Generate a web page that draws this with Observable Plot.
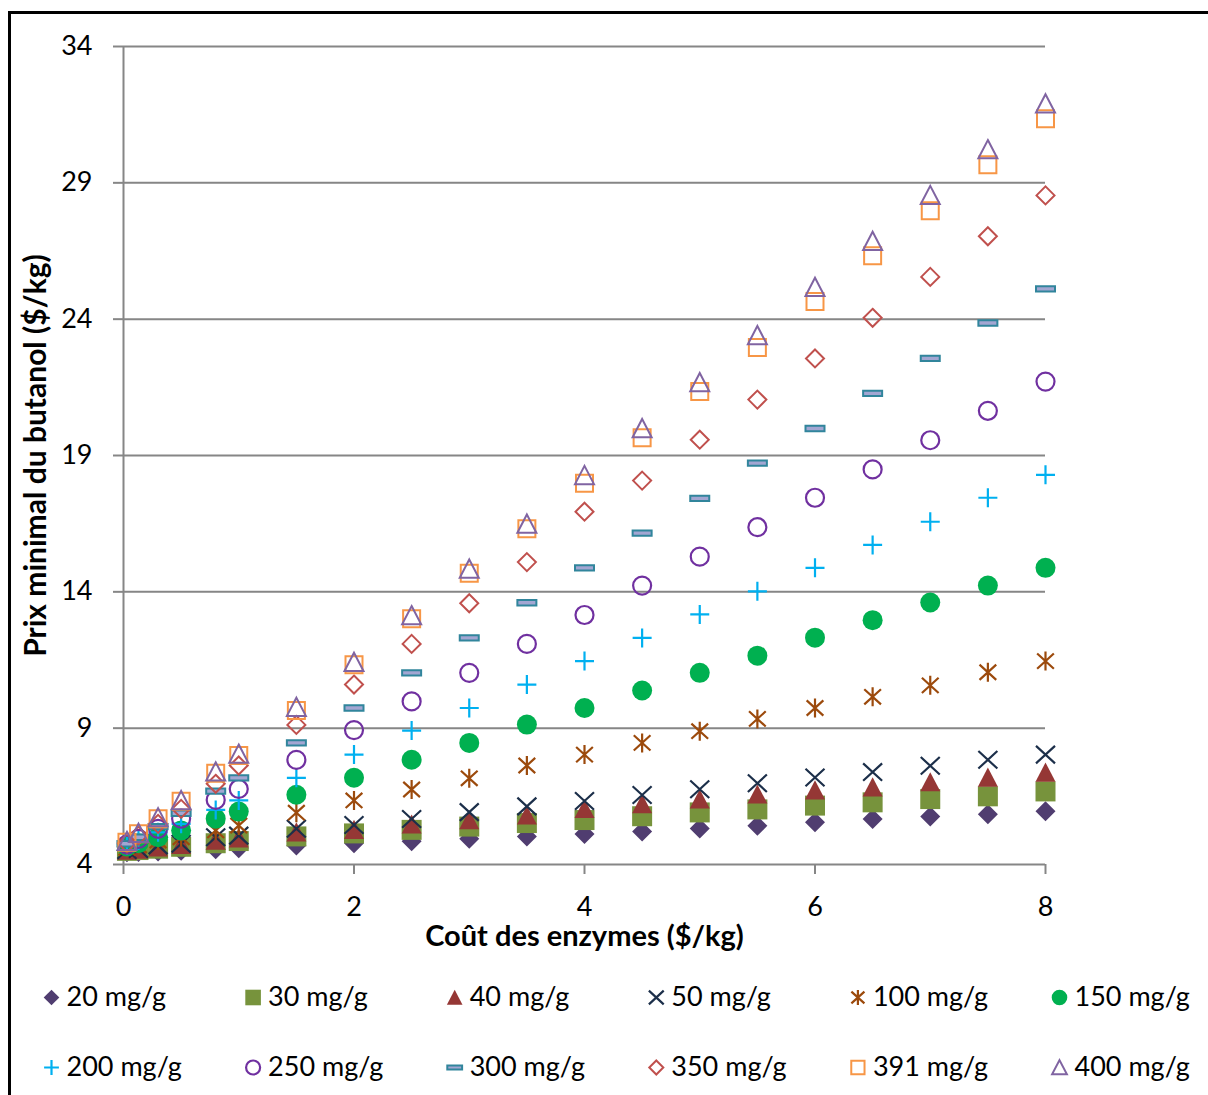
<!DOCTYPE html>
<html><head><meta charset="utf-8">
<script src="https://cdn.jsdelivr.net/npm/d3@7"></script>
<script src="https://cdn.jsdelivr.net/npm/@observablehq/plot@0.6"></script>
<style>
html,body{margin:0;padding:0;background:#fff;overflow:hidden;}
#wrap{position:relative;width:1208px;height:1095px;overflow:hidden;font-family:Lato,sans-serif;background:#fff;}
#frame{position:absolute;left:8px;top:11px;width:1400px;height:1300px;border:3px solid #000;pointer-events:none;z-index:2;}
#chart svg,#legend svg{display:block;}
</style></head><body>
<div id="wrap"><div id="frame"></div><div id="chart"></div><div id="legend"></div></div>
<script>
// ---------- data ----------
const xValues = [0.03, 0.13, 0.3, 0.5, 0.8, 1, 1.5, 2, 2.5, 3, 3.5, 4, 4.5, 5, 5.5, 6, 6.5, 7, 7.5, 8];
const seriesNames = ["20 mg/g","30 mg/g","40 mg/g","50 mg/g","100 mg/g","150 mg/g","200 mg/g","250 mg/g","300 mg/g","350 mg/g","391 mg/g","400 mg/g"];
const s20  = [4.45,4.46,4.48,4.50,4.56,4.60,4.70,4.78,4.85,4.94,5.03,5.12,5.21,5.32,5.42,5.55,5.67,5.76,5.84,5.95];
const s30  = [4.50,4.53,4.58,4.65,4.78,4.86,5.03,5.14,5.27,5.39,5.52,5.63,5.77,5.91,6.02,6.16,6.28,6.40,6.50,6.68];
const s40  = [4.51,4.55,4.63,4.72,4.88,4.96,5.18,5.27,5.47,5.63,5.80,6.04,6.22,6.39,6.57,6.72,6.83,7.02,7.19,7.37];
const s50  = [4.53,4.57,4.70,4.76,5.00,5.06,5.31,5.45,5.67,5.92,6.13,6.33,6.55,6.76,6.98,7.19,7.39,7.62,7.84,8.03];
const s100 = [4.61,4.70,4.88,5.00,5.25,5.43,5.90,6.35,6.75,7.16,7.63,8.03,8.46,8.89,9.34,9.74,10.15,10.57,11.05,11.46];
const s150 = [4.66,4.78,5.00,5.25,5.68,5.94,6.56,7.18,7.84,8.46,9.13,9.74,10.38,11.03,11.66,12.32,12.96,13.61,14.23,14.88];
const s200 = [4.70,4.88,5.18,5.49,6.00,6.35,7.18,8.03,8.91,9.74,10.60,11.46,12.31,13.17,14.02,14.88,15.72,16.57,17.45,18.29];
const s250 = [4.73,4.94,5.31,5.68,6.37,6.77,7.84,8.93,9.98,11.03,12.09,13.15,14.23,15.29,16.37,17.45,18.49,19.56,20.64,21.71];
const s300 = [4.76,5.00,5.39,5.88,6.69,7.18,8.46,9.74,11.03,12.31,13.60,14.88,16.15,17.43,18.72,19.99,21.28,22.56,23.86,25.11];
const s350 = [4.78,5.06,5.49,6.04,6.96,7.63,9.12,10.60,12.09,13.58,15.09,16.94,18.08,19.58,21.05,22.56,24.05,25.55,27.04,28.54];
const s391 = [4.82,5.13,5.68,6.32,7.35,8.00,9.65,11.33,13.01,14.68,16.31,17.98,19.65,21.35,22.96,24.65,26.33,27.98,29.66,31.35];
const s400 = [4.85,5.15,5.72,6.35,7.40,8.05,9.77,11.42,13.13,14.84,16.49,18.27,19.99,21.68,23.40,25.17,26.86,28.54,30.22,31.90];
const seriesValues = [s20,s30,s40,s50,s100,s150,s200,s250,s300,s350,s391,s400];
const xTicks = [0, 2, 4, 6, 8];
const yTicks = [4, 9, 14, 19, 24, 29, 34];
const xTitle = "Coût des enzymes ($/kg)";
const yTitle = "Prix minimal du butanol ($/kg)";

// ---------- symbols ----------
const rad = s => Math.sqrt(s / Math.PI);
const diamondSym = {draw(c,s){const r=rad(s);c.moveTo(0,-r);c.lineTo(r,0);c.lineTo(0,r);c.lineTo(-r,0);c.closePath();}};
const squareSym = {draw(c,s){const r=rad(s);c.rect(-r,-r,2*r,2*r);}};
const triangleSym = {draw(c,s){const r=rad(s);c.moveTo(0,-r);c.lineTo(r,r*0.92);c.lineTo(-r,r*0.92);c.closePath();}};
const timesSym = {draw(c,s){const r=rad(s);c.moveTo(-r,-r*0.92);c.lineTo(r,r*0.92);c.moveTo(r,-r*0.92);c.lineTo(-r,r*0.92);}};
const starSym = {draw(c,s){const r=rad(s);c.moveTo(0,-r);c.lineTo(0,r);c.moveTo(-r*0.88,-r*0.8);c.lineTo(r*0.88,r*0.8);c.moveTo(r*0.88,-r*0.8);c.lineTo(-r*0.88,r*0.8);}};
const plusSym = {draw(c,s){const r=rad(s);c.moveTo(0,-r);c.lineTo(0,r);c.moveTo(-r,0);c.lineTo(r,0);}};
const circleSym = {draw(c,s){const r=rad(s);c.moveTo(r,0);c.arc(0,0,r,0,2*Math.PI);}};
const dashSym = {draw(c,s){const r=rad(s);c.rect(-r,-r*0.28,2*r,r*0.56);}};

const styles = [
  {sym: diamondSym,  r: 10,  fill: "#503d70", stroke: "none", sw: 0},
  {sym: squareSym,   r: 10,  fill: "#77933c", stroke: "none", sw: 0},
  {sym: triangleSym, r: 10,  fill: "#953735", stroke: "none", sw: 0},
  {sym: timesSym,    r: 9.5, fill: "none", stroke: "#1c2f4a", sw: 2.2},
  {sym: starSym,     r: 9.5, fill: "none", stroke: "#9c4a0c", sw: 2.2},
  {sym: circleSym,   r: 10,  fill: "#00b050", stroke: "none", sw: 0},
  {sym: plusSym,     r: 9.5, fill: "none", stroke: "#00b0f0", sw: 2.2},
  {sym: circleSym,   r: 9,   fill: "none", stroke: "#7030a0", sw: 2.2},
  {sym: dashSym,     r: 9.5, fill: "#a3a6d2", stroke: "#31859c", sw: 2},
  {sym: diamondSym,  r: 9,   fill: "none", stroke: "#c0504d", sw: 2},
  {sym: squareSym,   r: 8.5, fill: "none", stroke: "#f79646", sw: 2},
  {sym: triangleSym, r: 9.5, fill: "none", stroke: "#8064a2", sw: 2}
];

const rows = seriesNames.flatMap((name, i) => xValues.map((x, j) => ({series: name, x, y: seriesValues[i][j]})));
const gray = "#868686";

const chart = Plot.plot({
  width: 1208, height: 960,
  marginLeft: 123, marginRight: 163, marginTop: 46, marginBottom: 96,
  style: {fontFamily: "Lato, sans-serif", fontSize: "27px", color: "#000", background: "transparent", overflow: "visible"},
  x: {domain: [0, 8]},
  y: {domain: [4, 34]},
  marks: [
    Plot.gridY(yTicks, {stroke: gray, strokeOpacity: 1, strokeWidth: 2}),
    Plot.ruleX([0], {stroke: gray, strokeWidth: 2}),
    Plot.axisY(yTicks, {tickSize: 10, tickPadding: 21, stroke: gray, strokeWidth: 2, fill: "#000", fontSize: 27, tickFormat: d => String(d), label: null}),
    Plot.axisX(xTicks, {tickSize: 10, tickPadding: 22, stroke: gray, strokeWidth: 2, fill: "#000", fontSize: 27, tickFormat: d => String(d), label: null}),
    ...seriesNames.map((name, i) => Plot.dot(rows, {
      filter: d => d.series === name, x: "x", y: "y",
      symbol: styles[i].sym, r: styles[i].r,
      fill: styles[i].fill, stroke: styles[i].stroke, strokeWidth: styles[i].sw
    })),
    Plot.text([xTitle], {frameAnchor: "bottom", dy: 81, textAnchor: "middle", fontWeight: "bold", fontSize: 29, fill: "#000"}),
    Plot.text([yTitle], {frameAnchor: "left", dx: -87, textAnchor: "middle", rotate: -90, fontWeight: "bold", fontSize: 30, fill: "#000"})
  ]
});
document.getElementById("chart").append(chart);

// ---------- legend ----------
const legendItems = seriesNames.map((name, i) => ({name, i, col: i % 6, row: Math.floor(i / 6)}));
const legend = Plot.plot({
  width: 1208, height: 135,
  marginLeft: 51, marginRight: 149, marginTop: 37, marginBottom: 28,
  style: {fontFamily: "Lato, sans-serif", fontSize: "27px", color: "#000", background: "transparent", overflow: "visible"},
  x: {domain: [0, 5], axis: null},
  y: {domain: [0, 1], range: [37, 107], axis: null},
  marks: [
    ...legendItems.map(d => Plot.dot([d], {
      x: "col", y: "row", symbol: styles[d.i].sym, r: styles[d.i].r * 0.78,
      fill: styles[d.i].fill, stroke: styles[d.i].stroke, strokeWidth: styles[d.i].sw
    })),
    Plot.text(legendItems, {x: "col", y: "row", text: "name", dx: 15, textAnchor: "start", fontSize: 27, fill: "#000"})
  ]
});
document.getElementById("legend").append(legend);
</script>
</body></html>
